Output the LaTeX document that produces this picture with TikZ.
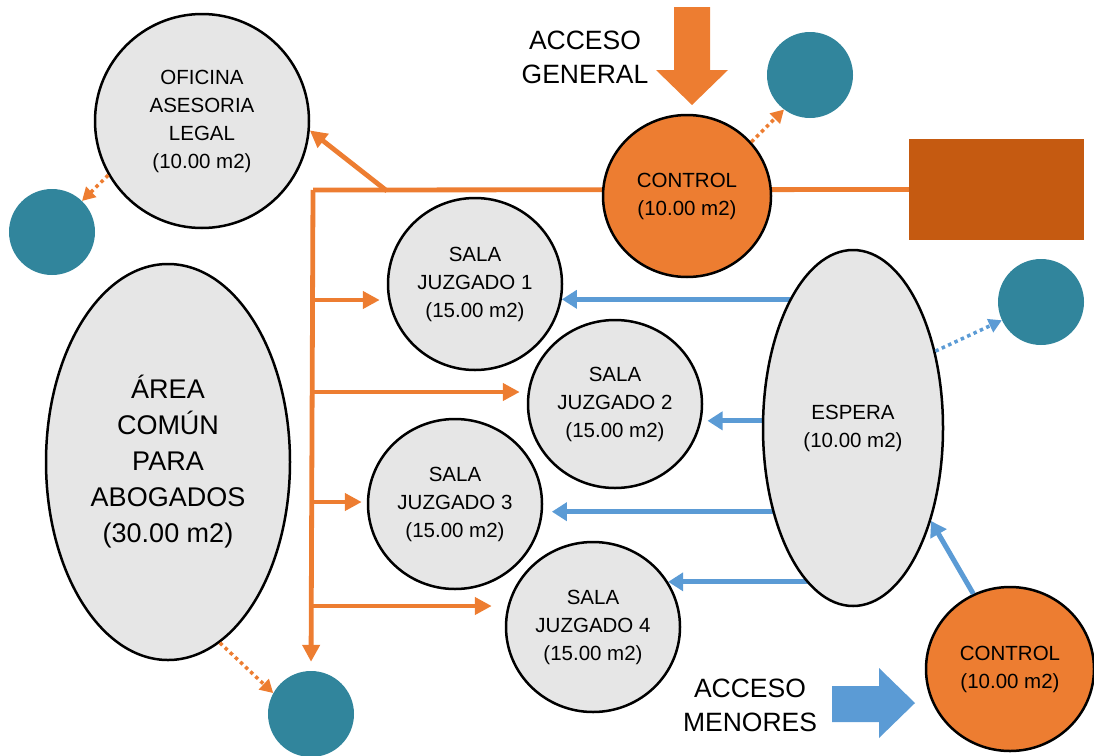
\documentclass[tikz,border=0pt]{standalone}
\usepackage{fontspec}
\setmainfont{Liberation Sans}
\usetikzlibrary{shapes.geometric,arrows.meta,backgrounds}
\definecolor{planorange}{HTML}{ED7D31}
\definecolor{darkorange}{HTML}{C55A11}
\definecolor{wcteal}{HTML}{31859C}
\definecolor{visitblue}{HTML}{5B9BD5}
\definecolor{roomgray}{HTML}{E6E6E6}
\begin{document}
\begin{tikzpicture}[x=1pt, y=-1pt,
  every node/.style={font=\fontsize{20.5}{28}\selectfont, align=center, inner sep=0pt},
  room/.style={ellipse, draw, line width=2.5pt, fill=roomgray},
  ctrl/.style={ellipse, draw, line width=2.5pt, fill=planorange},
  wc/.style={circle, fill=wcteal, minimum size=86pt},
  flowline/.style={line width=4.8pt, planorange},
  flow/.style={flowline, -{Triangle[length=17pt,width=17pt]}},
  visit/.style={line width=5pt, visitblue, -{Triangle[length=15pt,width=18pt]}},
  dotlink/.style={line width=3.5pt, dash pattern=on 3.5pt off 3.5pt,
    -{Triangle[length=13pt,width=14pt]}},
  bigtext/.style={font=\fontsize{26.5}{34}\selectfont}]
\useasboundingbox (0,0) rectangle (1094,755);
%
% ---- Rooms ----
\node[room, minimum width=214pt, minimum height=214pt] (ofi) at (202,121)
  {OFICINA\\ASESORIA\\LEGAL\\(10.00 m2)};
\node[room, minimum width=244pt, minimum height=396pt,
  font=\fontsize{27}{36}\selectfont] (area) at (168,462)
  {ÁREA\\COMÚN\\PARA\\ABOGADOS\\(30.00 m2)};
\node[room, minimum width=174pt, minimum height=172pt] (sala1) at (475,284)
  {SALA\\JUZGADO 1\\(15.00 m2)};
\node[room, minimum width=174pt, minimum height=168pt] (sala2) at (615,404)
  {SALA\\JUZGADO 2\\(15.00 m2)};
\node[room, minimum width=174pt, minimum height=170pt] (sala3) at (455,504)
  {SALA\\JUZGADO 3\\(15.00 m2)};
\node[room, minimum width=174pt, minimum height=170pt] (sala4) at (593,627)
  {SALA\\JUZGADO 4\\(15.00 m2)};
\node[room, minimum width=180pt, minimum height=356pt] (espera) at (853,428)
  {ESPERA\\(10.00 m2)};
%
% ---- Controls ----
\node[ctrl, minimum width=168pt, minimum height=162pt] (ctrlG) at (687,196)
  {CONTROL\\(10.00 m2)};
\node[ctrl, minimum width=168pt, minimum height=164pt] (ctrlM) at (1010,669)
  {CONTROL\\(10.00 m2)};
%
% ---- Services ----
\node[wc] (wcL) at (52,232) {};
\node[wc] (wcT) at (810,75) {};
\node[wc] (wcR) at (1041,302) {};
\node[wc] (wcB) at (311,714) {};
\node[fill=darkorange, minimum width=175pt, minimum height=101pt] (blk)
  at (996.5,189.5) {};
%
% ---- Entrances ----
\fill[planorange] (674,7) -- (710,7) -- (710,70) -- (728,70) -- (692,105)
  -- (656,70) -- (674,70) -- cycle;
\node[bigtext] (accG) at (585,57) {ACCESO\\GENERAL};
\fill[visitblue] (832,686) -- (879,686) -- (879,668) -- (915,703)
  -- (879,738) -- (879,722) -- (832,722) -- cycle;
\node[bigtext] (accM) at (750,705) {ACCESO\\MENORES};
%
% ---- General circulation ----
\coordinate (corner) at (313,190);
\coordinate (split) at (387,191);
\begin{scope}[on background layer]
\draw[flowline] (blk.west) -- (corner);
\end{scope}
\draw[flow, shorten >=9pt] (corner) -- (wcB.north);
\draw[flow] (split) -- (ofi.-5);
\draw[flow, shorten >=7pt] (corner |- 0,300) -- (sala1.west |- 0,300);
\draw[flow, shorten >=7pt] (corner |- 0,392) -- (sala2.west |- 0,392);
\draw[flow, shorten >=5pt] (corner |- 0,502) -- (sala3.west |- 0,502);
\draw[flow, shorten >=13pt] (corner |- 0,606) -- (sala4.west |- 0,606);
%
% ---- Minors circulation ----
\begin{scope}[on background layer]
\draw[visit] (espera.center |- sala1.-10) -- (sala1.-10);
\draw[visit, shorten >=6pt] (espera.center |- sala2.-11) -- (sala2.-11);
\draw[visit, shorten >=9pt] (espera.center |- sala3.-5) -- (sala3.-5);
\draw[visit] (espera.center |- sala4.31) -- (sala4.31);
\end{scope}
\draw[visit] (ctrlM.116) -- (espera.-50);
%
% ---- Service links ----
\draw[dotlink, planorange] (ofi.210) -- (wcL.46);
\draw[dotlink, planorange] (ctrlG.40) -- (wcT.233);
\draw[dotlink, planorange] (area.-74) -- (wcB.151);
\draw[dotlink, visitblue] (espera.43) -- (wcR.205);
\end{tikzpicture}
\end{document}
